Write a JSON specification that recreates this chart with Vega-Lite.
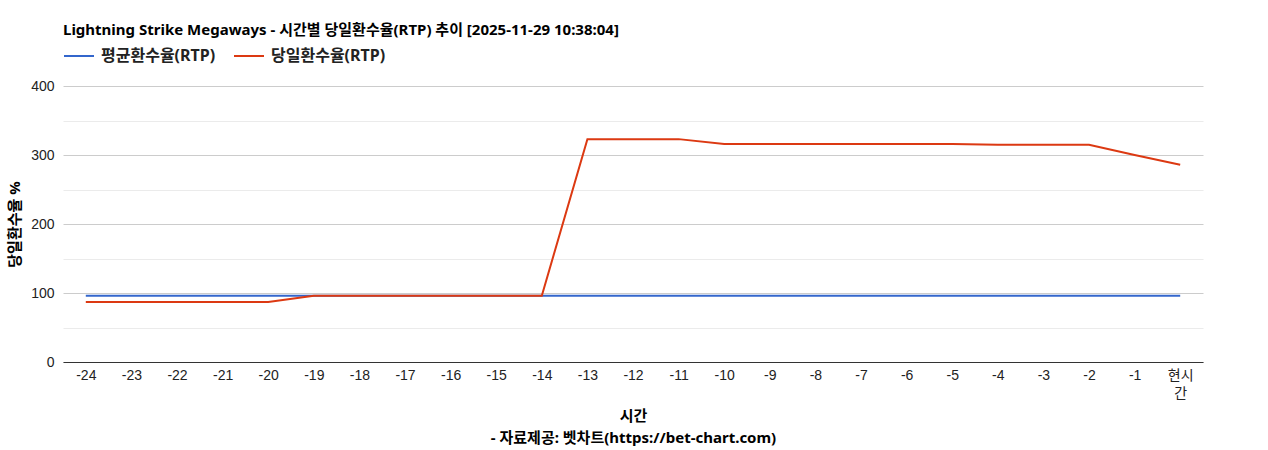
{
  "$schema": "https://vega.github.io/schema/vega-lite/v6.json",
  "autosize": {"type": "none"},
  "width": 1140,
  "height": 276,
  "padding": {"left": 63, "top": 86, "right": 65, "bottom": 88},
  "background": "white",
  "title": {
    "text": "Lightning Strike Megaways - 시간별 당일환수율(RTP) 추이 [2025-11-29 10:38:04]",
    "anchor": "start",
    "frame": "group",
    "font": "Noto Sans, Noto Sans CJK KR, sans-serif",
    "fontSize": 15,
    "fontWeight": "bold",
    "color": "#000000",
    "offset": 2
  },
  "data": {
    "values": [
      {"hour": "-24", "series": "평균환수율(RTP)", "rtp": 96},
      {"hour": "-23", "series": "평균환수율(RTP)", "rtp": 96},
      {"hour": "-22", "series": "평균환수율(RTP)", "rtp": 96},
      {"hour": "-21", "series": "평균환수율(RTP)", "rtp": 96},
      {"hour": "-20", "series": "평균환수율(RTP)", "rtp": 96},
      {"hour": "-19", "series": "평균환수율(RTP)", "rtp": 96},
      {"hour": "-18", "series": "평균환수율(RTP)", "rtp": 96},
      {"hour": "-17", "series": "평균환수율(RTP)", "rtp": 96},
      {"hour": "-16", "series": "평균환수율(RTP)", "rtp": 96},
      {"hour": "-15", "series": "평균환수율(RTP)", "rtp": 96},
      {"hour": "-14", "series": "평균환수율(RTP)", "rtp": 96},
      {"hour": "-13", "series": "평균환수율(RTP)", "rtp": 96},
      {"hour": "-12", "series": "평균환수율(RTP)", "rtp": 96},
      {"hour": "-11", "series": "평균환수율(RTP)", "rtp": 96},
      {"hour": "-10", "series": "평균환수율(RTP)", "rtp": 96},
      {"hour": "-9", "series": "평균환수율(RTP)", "rtp": 96},
      {"hour": "-8", "series": "평균환수율(RTP)", "rtp": 96},
      {"hour": "-7", "series": "평균환수율(RTP)", "rtp": 96},
      {"hour": "-6", "series": "평균환수율(RTP)", "rtp": 96},
      {"hour": "-5", "series": "평균환수율(RTP)", "rtp": 96},
      {"hour": "-4", "series": "평균환수율(RTP)", "rtp": 96},
      {"hour": "-3", "series": "평균환수율(RTP)", "rtp": 96},
      {"hour": "-2", "series": "평균환수율(RTP)", "rtp": 96},
      {"hour": "-1", "series": "평균환수율(RTP)", "rtp": 96},
      {"hour": "현시간", "series": "평균환수율(RTP)", "rtp": 96},
      {"hour": "-24", "series": "당일환수율(RTP)", "rtp": 87},
      {"hour": "-23", "series": "당일환수율(RTP)", "rtp": 87},
      {"hour": "-22", "series": "당일환수율(RTP)", "rtp": 87},
      {"hour": "-21", "series": "당일환수율(RTP)", "rtp": 87},
      {"hour": "-20", "series": "당일환수율(RTP)", "rtp": 87},
      {"hour": "-19", "series": "당일환수율(RTP)", "rtp": 96},
      {"hour": "-18", "series": "당일환수율(RTP)", "rtp": 96},
      {"hour": "-17", "series": "당일환수율(RTP)", "rtp": 96},
      {"hour": "-16", "series": "당일환수율(RTP)", "rtp": 96},
      {"hour": "-15", "series": "당일환수율(RTP)", "rtp": 96},
      {"hour": "-14", "series": "당일환수율(RTP)", "rtp": 96},
      {"hour": "-13", "series": "당일환수율(RTP)", "rtp": 323},
      {"hour": "-12", "series": "당일환수율(RTP)", "rtp": 323},
      {"hour": "-11", "series": "당일환수율(RTP)", "rtp": 323},
      {"hour": "-10", "series": "당일환수율(RTP)", "rtp": 316},
      {"hour": "-9", "series": "당일환수율(RTP)", "rtp": 316},
      {"hour": "-8", "series": "당일환수율(RTP)", "rtp": 316},
      {"hour": "-7", "series": "당일환수율(RTP)", "rtp": 316},
      {"hour": "-6", "series": "당일환수율(RTP)", "rtp": 316},
      {"hour": "-5", "series": "당일환수율(RTP)", "rtp": 316},
      {"hour": "-4", "series": "당일환수율(RTP)", "rtp": 315},
      {"hour": "-3", "series": "당일환수율(RTP)", "rtp": 315},
      {"hour": "-2", "series": "당일환수율(RTP)", "rtp": 315},
      {"hour": "-1", "series": "당일환수율(RTP)", "rtp": 300},
      {"hour": "현시간", "series": "당일환수율(RTP)", "rtp": 286}
    ]
  },
  "mark": {"type": "line", "strokeWidth": 2},
  "encoding": {
    "x": {
      "field": "hour",
      "type": "ordinal",
      "scale": {
        "domain": ["-24", "-23", "-22", "-21", "-20", "-19", "-18", "-17", "-16", "-15", "-14", "-13", "-12", "-11", "-10", "-9", "-8", "-7", "-6", "-5", "-4", "-3", "-2", "-1", "현시간"],
        "padding": 0.5
      },
      "axis": {
        "title": ["시간", "- 자료제공: 벳차트(https://bet-chart.com)"],
        "titleFont": "Noto Sans, Noto Sans CJK KR, sans-serif",
        "titleFontSize": 15,
        "titleFontWeight": "bold",
        "titleColor": "#000000",
        "titleLineHeight": 22,
        "titlePadding": 8,
        "labelAngle": 0,
        "labelFont": "Arial, Noto Sans CJK KR, sans-serif",
        "labelFontSize": 14,
        "labelColor": "#222222",
        "labelPadding": 6,
        "labelLineHeight": 18,
        "labelExpr": "datum.value == '현시간' ? ['현시', '간'] : datum.label",
        "ticks": false,
        "grid": false,
        "domainColor": "#333333",
        "domainWidth": 1
      }
    },
    "y": {
      "field": "rtp",
      "type": "quantitative",
      "scale": {"domain": [0, 400], "nice": false},
      "axis": {
        "title": "당일환수율 %",
        "titleFont": "Noto Sans, Noto Sans CJK KR, sans-serif",
        "titleFontSize": 15,
        "titleFontWeight": "bold",
        "titleColor": "#000000",
        "titlePadding": 8,
        "values": [0, 50, 100, 150, 200, 250, 300, 350, 400],
        "labelExpr": "datum.value % 100 == 0 ? datum.label : ''",
        "labelFont": "Arial, Noto Sans CJK KR, sans-serif",
        "labelFontSize": 14,
        "labelColor": "#222222",
        "labelPadding": 9,
        "ticks": false,
        "domain": false,
        "gridColor": {"condition": {"test": "datum.value % 100 == 0", "value": "#cccccc"}, "value": "#ebebeb"},
        "gridWidth": 1
      }
    },
    "color": {
      "field": "series",
      "type": "nominal",
      "scale": {
        "domain": ["평균환수율(RTP)", "당일환수율(RTP)"],
        "range": ["#3366cc", "#dc3912"]
      },
      "legend": {
        "title": null,
        "orient": "none",
        "legendX": 0,
        "legendY": -46,
        "direction": "horizontal",
        "symbolType": "stroke",
        "symbolSize": 900,
        "symbolStrokeWidth": 2,
        "labelFont": "Noto Sans, Noto Sans CJK KR, sans-serif",
        "labelFontSize": 16,
        "labelFontWeight": "bold",
        "labelColor": "#222222",
        "labelOffset": 6,
        "columnPadding": 14
      }
    }
  },
  "config": {"view": {"stroke": null}}
}
